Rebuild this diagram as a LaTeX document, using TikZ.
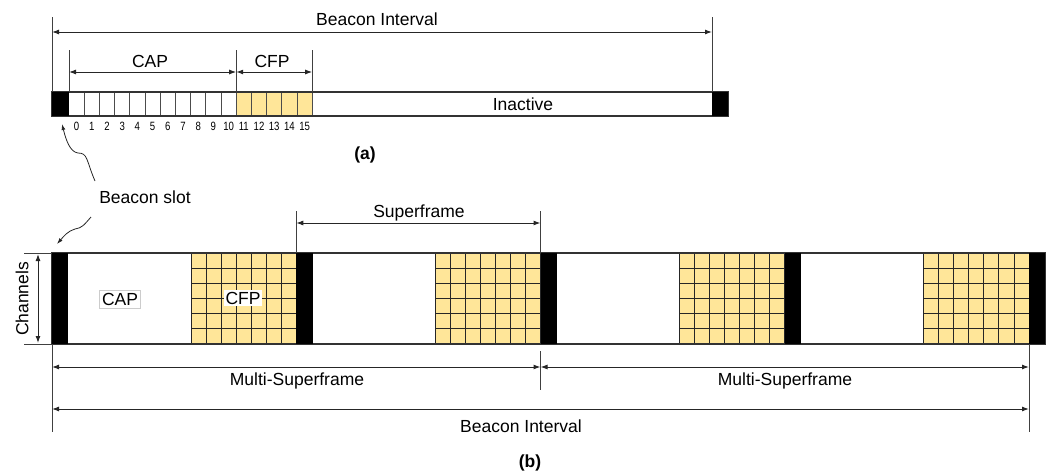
\documentclass[tikz,border=0pt]{standalone}
\usepackage{fontspec}
\usepackage{graphicx}
\setmainfont{Liberation Sans}
\usetikzlibrary{arrows.meta}
\definecolor{cfpyellow}{HTML}{FFE699}
\begin{document}
\begin{tikzpicture}[x=1pt,y=-1pt,
  dim/.style={{Latex[length=7pt,width=5pt]}-{Latex[length=7pt,width=5pt]}, line width=1pt, draw=black!85},
  tickline/.style={line width=0.9pt, draw=black!75},
  barline/.style={line width=1.1pt, draw=black!80},
  gridline/.style={line width=1pt, draw=black!85},
  slotline/.style={line width=0.8pt, draw=black!70},
  lbl/.style={font=\fontsize{17.5}{17.5}\selectfont, inner sep=0pt},
  num/.style={font=\fontsize{12}{12}\selectfont, inner sep=0pt},
  pointer/.style={-{Latex[length=6pt,width=4pt]}, line width=0.8pt, draw=black!85},
  beacon/.style={fill=black},
  cfpcell/.style={fill=cfpyellow}]
\useasboundingbox (0,0) rectangle (1051,471);

% ---------------- (a) ----------------
\def\sw{15.2}
\fill[cfpyellow] (69+11*\sw,92) rectangle (69+16*\sw,116);
\foreach \i in {1,...,15} \draw[slotline] (69+\i*\sw,92) -- (69+\i*\sw,116);
\draw[slotline] (69+16*\sw,92) -- (69+16*\sw,116);
\draw[barline] (52,92) rectangle (728,116);
\fill[beacon] (52,92) rectangle (69,116);
\fill[beacon] (712,92) rectangle (728,116);
\foreach \i in {0,...,15} \node[num] (n\i) at (69+\i*\sw+7.6,126) {\scalebox{0.8}[1]{\i}};
\node[lbl] (inactive) at (523,104) {Inactive};

% ticks
\coordinate (ta0) at (52,17);   \coordinate (ta0b) at (52,92);
\coordinate (ta4) at (712,17);  \coordinate (ta4b) at (712,92);
\coordinate (ta1) at (69,50);   \coordinate (ta1b) at (69,92);
\coordinate (ta2) at (69+11*\sw,50); \coordinate (ta2b) at (69+11*\sw,92);
\coordinate (ta3) at (69+16*\sw,50); \coordinate (ta3b) at (69+16*\sw,92);
\foreach \t in {ta0,ta1,ta2,ta3,ta4} \draw[tickline] (\t) -- (\t b);

% dimension arrows
\coordinate (bia) at (52,32);  \coordinate (bib) at (712,32);
\coordinate (capa) at (69,72); \coordinate (capb) at (69+11*\sw,72);
\coordinate (cfpb) at (69+16*\sw,72);
\draw[dim] (bia) -- (bib);
\draw[dim] (capa) -- (capb);
\draw[dim] (capb) -- (cfpb);
\node[lbl] (bilbla) at (377,19) {Beacon Interval};
\node[lbl] (caplbla) at (150,61) {CAP};
\node[lbl] (cfplbla) at (272,61) {CFP};
\node[lbl, font=\fontsize{17.5}{17.5}\selectfont\bfseries] (alabel) at (365,155) {(a)};

% Beacon slot pointers
\node[lbl] (bslot) at (145,197) {Beacon slot};
\coordinate (p1s) at (95,181);
\coordinate (p1e) at (62,124);
\draw[pointer] (p1s) .. controls (86,160) and (88,153) .. (78,153) .. controls (70,152) and (66,140) .. (p1e);
\coordinate (p2s) at (91,217);
\coordinate (p2e) at (57,244);
\draw[pointer] (p2s) .. controls (84,225) and (82,228) .. (75,229) .. controls (68,231) and (64,236) .. (p2e);

% ---------------- (b) ----------------
\def\P{244.25}
\def\cw{15.04}
\def\rh{15.1667}
\foreach \k in {0,1,2,3} {
  \fill[cfpyellow] (52+\k*\P+139,253) rectangle (52+\k*\P+\P,344);
  \foreach \c in {0,...,7} \draw[gridline] (52+\k*\P+139+\c*\cw,253) -- (52+\k*\P+139+\c*\cw,344);
  \foreach \r in {1,...,5} \draw[gridline] (52+\k*\P+139,253+\r*\rh) -- (52+\k*\P+\P,253+\r*\rh);
}
\draw[barline] (52,253) rectangle (1045,344);
\foreach \k in {0,1,2,3,4} \fill[beacon] (52+\k*\P,253) rectangle (52+\k*\P+16.3,344);

\node[lbl, draw=black!20, fill=white, inner sep=2.5pt] (caplblb) at (120,299) {CAP};
\node[lbl, fill=white, inner sep=1.5pt] (cfplblb) at (243,298) {CFP};

% Channels
\coordinate (cht) at (24,253); \coordinate (chtb) at (52,253);
\coordinate (chb) at (24,344); \coordinate (chbb) at (52,344);
\draw[tickline] (cht) -- (chtb);
\draw[tickline] (chb) -- (chbb);
\coordinate (cha) at (38,254); \coordinate (chz) at (38,343);
\draw[dim] (cha) -- (chz);
\node[lbl, rotate=90] (chlbl) at (22,299) {Channels};

% Superframe
\coordinate (sft1) at (52+\P,211); \coordinate (sft1b) at (52+\P,253);
\coordinate (sft2) at (52+2*\P,211); \coordinate (sft2b) at (52+2*\P,253);
\draw[tickline] (sft1) -- (sft1b);
\draw[tickline] (sft2) -- (sft2b);
\coordinate (sfa) at (52+\P,223); \coordinate (sfb) at (52+2*\P,223);
\draw[dim] (sfa) -- (sfb);
\node[lbl] (sflbl) at (419,213) {Superframe};

% bottom ticks
\coordinate (bt0) at (52,344); \coordinate (bt0b) at (52,432);
\coordinate (bt1) at (52+2*\P,351); \coordinate (bt1b) at (52+2*\P,390);
\coordinate (bt2) at (52+4*\P,344); \coordinate (bt2b) at (52+4*\P,432);
\draw[tickline] (bt0) -- (bt0b);
\draw[tickline] (bt1) -- (bt1b);
\draw[tickline] (bt2) -- (bt2b);

\coordinate (msa) at (52,367); \coordinate (msb) at (52+2*\P,367); \coordinate (msc) at (52+4*\P,367);
\draw[dim] (msa) -- (msb);
\draw[dim] (msb) -- (msc);
\node[lbl] (mslbl1) at (297,381) {Multi-Superframe};
\node[lbl] (mslbl2) at (785,381) {Multi-Superframe};

\coordinate (bba) at (52,409); \coordinate (bbb) at (52+4*\P,409);
\draw[dim] (bba) -- (bbb);
\node[lbl] (bilblb) at (521,426) {Beacon Interval};
\node[lbl, font=\fontsize{17.5}{17.5}\selectfont\bfseries] (blabel) at (530,463) {(b)};
\end{tikzpicture}
\end{document}
